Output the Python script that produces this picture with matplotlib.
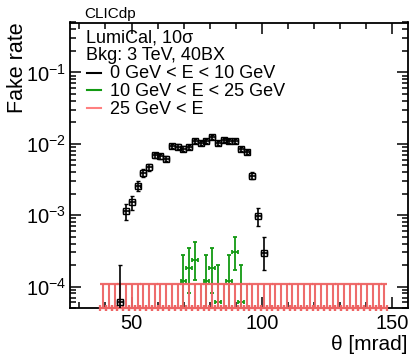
import numpy as np
import matplotlib
matplotlib.use('Agg')
import matplotlib.pyplot as plt
from matplotlib.ticker import LogLocator, FixedLocator, MultipleLocator, NullFormatter

plt.rcParams['font.family'] = ['Liberation Sans', 'DejaVu Sans']
plt.rcParams['mathtext.fontset'] = 'custom'
plt.rcParams['mathtext.rm'] = 'Liberation Sans'
plt.rcParams['mathtext.it'] = 'Liberation Sans:italic'
plt.rcParams['mathtext.bf'] = 'Liberation Sans:bold'
plt.rcParams['mathtext.default'] = 'regular'

# ---------------- data ----------------
bin_half_width = 1.1  # mrad

# 0 GeV < E < 10 GeV
low_theta = [45.7, 47.9, 50.1, 52.3, 54.5, 56.7, 58.9, 61.1, 63.3, 65.5, 67.7, 69.9, 72.1,
             74.3, 76.5, 78.7, 80.9, 83.1, 85.3, 87.5, 89.7, 91.9, 94.1, 96.3, 98.5, 100.7]
low_rate = [6.1e-5, 1.13e-3, 1.52e-3, 2.54e-3, 3.91e-3, 4.69e-3, 6.91e-3, 6.69e-3, 6.21e-3,
            9.23e-3, 9.14e-3, 8.57e-3, 8.93e-3, 1.09e-2, 1.01e-2, 1.09e-2, 1.24e-2, 1.03e-2,
            1.13e-2, 1.09e-2, 1.09e-2, 8.49e-3, 7.71e-3, 3.58e-3, 9.62e-4, 2.94e-4]
low_err_lo = [6.1e-5, 2.7e-4, 3.5e-4, 3.8e-4, 4.7e-4, 5.2e-4, 5.5e-4, 5.4e-4, 5.2e-4,
              6.0e-4, 6.0e-4, 5.8e-4, 5.9e-4, 6.5e-4, 6.3e-4, 6.5e-4, 7.0e-4, 6.4e-4,
              6.7e-4, 6.5e-4, 6.5e-4, 5.8e-4, 5.5e-4, 3.7e-4, 2.5e-4, 1.26e-4]
low_err_hi = [1.36e-4, 3.2e-4, 3.1e-4, 4.4e-4, 5.0e-4, 5.6e-4, 5.9e-4, 5.8e-4, 5.6e-4,
              6.4e-4, 6.4e-4, 6.2e-4, 6.3e-4, 6.9e-4, 6.7e-4, 6.9e-4, 7.4e-4, 6.8e-4,
              7.1e-4, 6.9e-4, 6.9e-4, 6.2e-4, 5.9e-4, 4.0e-4, 3.0e-4, 2.0e-4]

# 10 GeV < E < 25 GeV
mid_theta = [69.9, 72.1, 74.3, 78.7, 80.9, 83.1, 87.5, 89.7, 91.9]
mid_rate = [1.21e-4, 1.79e-4, 2.39e-4, 1.21e-4, 1.79e-4, 6.0e-5, 1.21e-4, 3.05e-4, 6.0e-5]
mid_err_lo = [8.1e-5, 9.8e-5, 1.15e-4, 8.1e-5, 9.8e-5, 6.0e-5, 8.1e-5, 1.35e-4, 6.0e-5]
mid_err_hi = [1.51e-4, 1.67e-4, 1.81e-4, 1.51e-4, 1.67e-4, 1.37e-4, 1.51e-4, 1.85e-4, 1.37e-4]

# 25 GeV < E  (no fakes: zero with upper error)
high_theta = [39.1, 41.3, 43.5, 45.7, 47.9, 50.1, 52.3, 54.5, 56.7, 58.9,
              61.1, 63.3, 65.5, 67.7, 69.9, 72.1, 74.3, 76.5, 78.7, 80.9,
              83.1, 85.3, 87.5, 89.7, 91.9, 94.1, 96.3, 98.5, 100.7, 102.9,
              105.1, 107.3, 109.5, 111.7, 113.9, 116.1, 118.3, 120.5, 122.7, 124.9,
              127.1, 129.3, 131.5, 133.7, 135.9, 138.1, 140.3, 142.5, 144.7, 146.9]
high_rate = [0.0] * 50
high_err_hi = [1.1e-4] * 50

legend_labels = ['0 GeV < E < 10 GeV', '10 GeV < E < 25 GeV', '25 GeV < E']
header_lines = ['LumiCal, 10σ', 'Bkg: 3 TeV, 40BX']

# ---------------- plot ----------------
fig = plt.figure(figsize=(4.14, 3.54), dpi=100)
ax = fig.add_axes([70/414, 1-308/354, 338/414, 285.5/354])
ax.set_yscale('log')
ymin, ymax = 5e-5, 0.5
ax.set_xlim(26.4, 156)
ax.set_ylim(ymin, ymax)

c_low, c_mid, c_high = 'black', '#139a13', '#ee6464'

# 25 GeV < E
hr = np.array(high_rate)
hy = np.maximum(hr, ymin)
hup = hr + np.array(high_err_hi) - hy
ax.errorbar(high_theta, hy, yerr=[np.zeros_like(hy), hup], xerr=bin_half_width,
            fmt='none', ecolor=c_high, elinewidth=1.5, capsize=2.0, capthick=1.6,
            clip_on=False, zorder=4, alpha=0.95)

# 10-25 GeV
ax.errorbar(mid_theta, mid_rate, yerr=[mid_err_lo, mid_err_hi], xerr=bin_half_width,
            fmt='none', ecolor=c_mid, elinewidth=1.3, capsize=1.6, capthick=1.3, zorder=3)

# 0-10 GeV
ax.errorbar(low_theta, low_rate, yerr=[low_err_lo, low_err_hi], xerr=bin_half_width,
            fmt='s', mfc='none', mec=c_low, ms=3.9, mew=1.0, ecolor=c_low,
            elinewidth=1.2, capsize=1.3, capthick=1.2, zorder=5)

# ticks
ax.xaxis.set_major_locator(FixedLocator([50, 100, 150]))
ax.xaxis.set_minor_locator(MultipleLocator(10))
ax.yaxis.set_major_locator(LogLocator(base=10, numticks=12))
ax.yaxis.set_minor_locator(LogLocator(base=10, subs=np.arange(2, 10), numticks=12))
ax.yaxis.set_minor_formatter(NullFormatter())
ax.tick_params(which='both', direction='in', top=True, right=True, width=1.1,
               labelsize=14.5)
ax.tick_params(which='major', length=8)
ax.tick_params(which='minor', length=4)
ax.tick_params(axis='x', which='major', pad=4)
ax.tick_params(axis='y', which='major', pad=3)
for s in ax.spines.values():
    s.set_linewidth(1.3)

ax.set_xlabel('θ [mrad]', fontsize=15, loc='right')
ax.xaxis.set_label_coords(1.0, -0.093)
ax.set_ylabel('Fake rate', fontsize=15.5, loc='top')
ax.yaxis.set_label_coords(-0.125, 1.0)

fig.text(84/414, 1-14/354, 'CLICdp', fontsize=11, ha='left', va='center')

# legend (manual, ROOT style)
def ay(py):
    return (308 - py) / 285.5
def axx(px):
    return (px - 70) / 338

fs = 13
ax.text(axx(86), ay(42.5), header_lines[0], fontsize=fs, ha='left', va='baseline',
        transform=ax.transAxes)
ax.text(axx(86), ay(60.5), header_lines[1], fontsize=fs, ha='left', va='baseline',
        transform=ax.transAxes)
for i, (lab, col) in enumerate(zip(legend_labels, [c_low, c_mid, '#ff8080'])):
    base = 78.5 + 17.5 * i
    ax.plot([axx(87), axx(101)], [ay(base - 5.5)] * 2, color=col, lw=1.5,
            transform=ax.transAxes, clip_on=False)
    ax.text(axx(110), ay(base), lab, fontsize=fs, ha='left', va='baseline',
            transform=ax.transAxes)

fig.savefig('out.png', dpi=100)
